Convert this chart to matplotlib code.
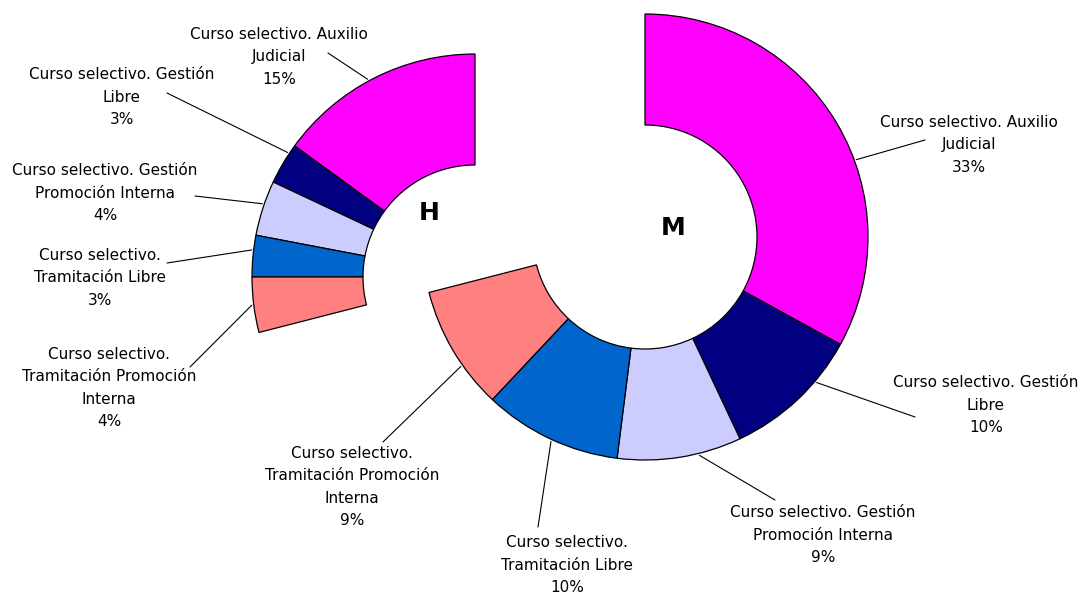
import numpy as np
import matplotlib
matplotlib.use('Agg')
import matplotlib.pyplot as plt
from matplotlib import font_manager

# categorías (el salto de línea es el de la etiqueta original)
CATEGORIES = [
    'Curso selectivo. Auxilio\nJudicial',
    'Curso selectivo. Gestión\nLibre',
    'Curso selectivo. Gestión\nPromoción Interna',
    'Curso selectivo.\nTramitación Libre',
    'Curso selectivo.\nTramitación Promoción\nInterna',
]
COLORS = ['#FF00FF', '#000080', '#CCCCFF', '#0066CC', '#FF8080']

# porcentaje sobre el total (H + M = 100)
PCT_H = [15, 3, 4, 3, 4]
PCT_M = [33, 10, 9, 10, 9]

# layout en píxeles (eje y hacia arriba)
W, HGT = 1086, 594
CENTER_M = (645, 357)
CENTER_H = (475, 317)
R_OUT, RING = 223, 111

LABEL_POS_H = [(279, 537), (122, 497), (105, 401), (100, 316), (109, 206)]
LINE_END_H = [(328, 541), (167, 501), (195, 398), (167, 331), (190, 227)]
ANCHOR_SHIFT_H = [1.5, -3, -1, -1.5, 0]
LABEL_POS_M = [(969, 449), (986, 189), (823, 59), (567, 29), (352, 107)]
LINE_END_M = [(925, 454), (915, 177), (775, 94), (538, 67), (383, 152)]
ANCHOR_SHIFT_M = [-10.5, 6.5, 5, 0.5, 4.5]

FONT = ['DejaVu Sans']
_names = {f.name for f in font_manager.fontManager.ttflist}
BIG_FONT = ['Liberation Sans Narrow'] if 'Liberation Sans Narrow' in _names else ['DejaVu Sans']


def draw_ring(ax, pcts, center, clockwise, label_pos, line_end, shifts):
    fracs = [p / 100 for p in pcts]
    wedges, _ = ax.pie(fracs, colors=COLORS, startangle=90,
                       counterclock=not clockwise, normalize=False,
                       center=center, radius=R_OUT, frame=True,
                       wedgeprops=dict(width=RING, edgecolor='black', lw=0.9))
    for w, cat, p, tpos, lend, sh in zip(wedges, CATEGORIES, pcts,
                                         label_pos, line_end, shifts):
        ang = np.deg2rad((w.theta1 + w.theta2) / 2 + sh)
        anchor = (center[0] + (R_OUT + 2) * np.cos(ang),
                  center[1] + (R_OUT + 2) * np.sin(ang))
        ax.annotate('', xy=anchor, xytext=lend,
                    arrowprops=dict(arrowstyle='-', lw=0.8, color='black',
                                    shrinkA=0, shrinkB=0))
        ax.text(tpos[0], tpos[1], f'{cat}\n{p}%', ha='center', va='center',
                fontsize=11, family=FONT, linespacing=1.6, color='black')


def main():
    fig = plt.figure(figsize=(W / 100, HGT / 100), dpi=100)
    ax = fig.add_axes([0, 0, 1, 1])

    draw_ring(ax, PCT_M, CENTER_M, True, LABEL_POS_M, LINE_END_M, ANCHOR_SHIFT_M)
    draw_ring(ax, PCT_H, CENTER_H, False, LABEL_POS_H, LINE_END_H, ANCHOR_SHIFT_H)

    ax.text(429, 381, 'H', ha='center', va='center', fontsize=18,
            fontweight='bold', family=BIG_FONT)
    ax.text(673, 366, 'M', ha='center', va='center', fontsize=18,
            fontweight='bold', family=BIG_FONT)

    ax.set_xlim(0, W)
    ax.set_ylim(0, HGT)
    ax.set_aspect('equal')
    ax.axis('off')
    fig.savefig('out.png', dpi=100, facecolor='white')
    plt.close(fig)


if __name__ == '__main__':
    main()
